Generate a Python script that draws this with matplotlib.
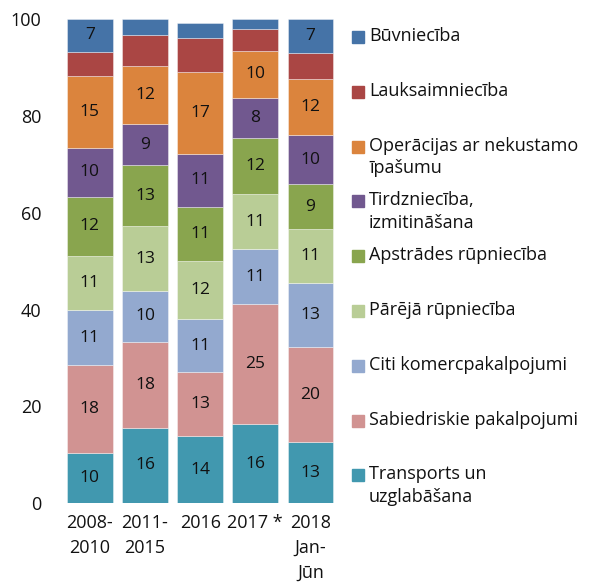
import matplotlib
matplotlib.use("Agg")

import matplotlib.pyplot as plt
import numpy as np
from matplotlib.patches import Rectangle

plt.rcParams["font.family"] = ["Open Sans", "DejaVu Sans"]

# categories on the x axis
periods = ["2008-\n2010", "2011-\n2015", "2016", "2017 *", "2018\nJan-\nJūn"]

# series, bottom to top
series_names = [
    "Transports un\nuzglabāšana",
    "Sabiedriskie pakalpojumi",
    "Citi komercpakalpojumi",
    "Pārējā rūpniecība",
    "Apstrādes rūpniecība",
    "Tirdzniecība,\nizmitināšana",
    "Operācijas ar nekustamo\nīpašumu",
    "Lauksaimniecība",
    "Būvniecība",
]
transports = [10.3, 15.6, 13.8, 16.3, 12.6]
sabiedriskie = [18.2, 17.8, 13.2, 24.8, 19.6]
citi = [11.4, 10.4, 11.0, 11.4, 13.2]
parejas = [11.2, 13.4, 12.0, 11.4, 11.2]
apstrades = [12.2, 12.6, 11.2, 11.6, 9.3]
tirdznieciba = [10.1, 8.6, 11.0, 8.3, 10.1]
operacijas = [14.9, 11.9, 16.9, 9.7, 11.6]
lauksaimnieciba = [5.0, 6.4, 7.0, 4.5, 5.4]
buvnieciba = [6.8, 3.3, 3.1, 2.1, 7.0]

values = [transports, sabiedriskie, citi, parejas, apstrades,
          tirdznieciba, operacijas, lauksaimnieciba, buvnieciba]

colors = ["#4198AF", "#D19392", "#93A9CF", "#B9CD96", "#89A54E",
          "#71588F", "#DB843D", "#AA4644", "#4573A7"]

# which series get value labels (small top segments are left blank)
show_min = [0, 0, 0, 0, 0, 0, 0, 999, 5]

fig = plt.figure(figsize=(5.93, 5.83), dpi=100)
ax = fig.add_axes([0.105, 0.137, 0.465, 0.830])

x = np.arange(len(periods))
bottom = np.zeros(len(periods))
for vals, col, thr in zip(values, colors, show_min):
    vals = np.array(vals)
    ax.bar(x, vals, width=0.83, bottom=bottom, color=col,
           edgecolor=(1, 1, 1, 0.45), linewidth=0.6)
    for xi, b, v in zip(x, bottom, vals):
        if v >= thr:
            ax.text(xi, b + v / 2, f"{int(v + 0.5):d}", ha="center", va="center",
                    fontsize=12.5, color="#111111")
    bottom += vals

ax.set_xlim(-0.5, len(periods) - 0.5)
ax.set_ylim(0, 100)
ax.set_yticks(range(0, 101, 20))
ax.set_xticks(x, labels=periods)
ax.tick_params(axis="both", length=0, labelsize=13, colors="#111111")
ax.tick_params(axis="y", pad=15)
ax.tick_params(axis="x", pad=8)
for lbl in ax.get_xticklabels():
    lbl.set_linespacing(1.5)
for s in ax.spines.values():
    s.set_visible(False)

# legend drawn by hand, top entry first
W, H = 593.0, 583.0
y0, step = 37.0, 54.8
for i, (name, col) in enumerate(zip(series_names[::-1], colors[::-1])):
    yc = y0 + i * step
    fig.patches.append(Rectangle((352 / W, 1 - (yc + 6) / H), 12 / W, 12 / H,
                                 transform=fig.transFigure, color=col))
    fig.text(369 / W, 1 - (yc - 10) / H, name, ha="left", va="top",
             fontsize=13, color="#111111", linespacing=1.3)

fig.savefig("out.png")
plt.close(fig)
